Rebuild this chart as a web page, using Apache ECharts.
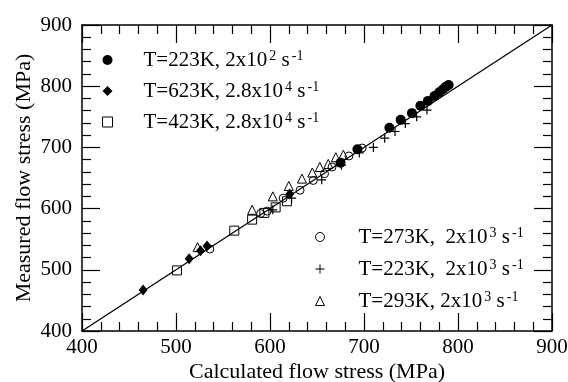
<!DOCTYPE html>
<html><head><meta charset="utf-8">
<script src="https://cdn.jsdelivr.net/npm/echarts@6/dist/echarts.min.js"></script>
<style>html,body{margin:0;padding:0;background:#fff}#c{width:568px;height:382px}</style>
</head><body><div id="c"></div>
<script>
// ---- data ----
const xTicks = [400, 500, 600, 700, 800, 900];
const yTicks = [400, 500, 600, 700, 800, 900];
const diagonal = [[400, 400], [900, 900]];
const xTitle = 'Calculated flow stress (MPa)';
const yTitle = 'Measured flow stress (MPa)';

const s1Name = 'T=223K, 2x10^2 s^-1';
const s1Calc = [675, 693, 727, 739, 751, 760, 768, 775, 780, 784, 787, 790];
const s1Meas = [675, 697, 732, 745, 756, 768, 776, 784, 790, 795, 799, 802];

const s2Name = 'T=623K, 2.8x10^4 s^-1';
const s2Calc = [465, 514, 526, 533, 621];
const s2Meas = [467, 518, 531, 539, 624];

const s3Name = 'T=423K, 2.8x10^4 s^-1';
const s3Calc = [501, 562, 581, 594, 606, 618];
const s3Meas = [499, 564, 582, 593, 602, 612];

const s4Name = 'T=273K,  2x10^3 s^-1';
const s4Calc = [536, 590, 597, 614, 632, 646, 658, 666, 684, 698];
const s4Meas = [534, 592, 596, 617, 630, 646, 657, 668, 686, 699];

const s5Name = 'T=223K,  2x10^3 s^-1';
const s5Calc = [603, 623, 655, 676, 695, 710, 722, 733, 744, 756, 767];
const s5Meas = [598, 617, 647, 671, 691, 700, 715, 726, 739, 750, 761];

const s6Name = 'T=293K, 2x10^3 s^-1';
const s6Calc = [523, 581, 603, 620, 634, 645, 653, 662, 670, 678];
const s6Meas = [537, 598, 620, 637, 649, 659, 668, 673, 684, 688];

// ---- chart ----
const zip = (a, b) => a.map((v, i) => [v, b[i]]);
const FONT = 'Liberation Serif';
const chart = echarts.init(document.getElementById('c'));

function legendFmt(name) {
  return name.replace(/\^(-?[0-9.]+)/g, '{sup|$1}').replace(/(^|\})([^{]+)(?=\{|$)/g, function (m, p, t) { return p + '{n|' + t + '}'; });
}
function legendText(padLeft) {
  return {
    fontFamily: FONT, color: '#000', padding: [0, 0, 0, padLeft],
    rich: {
      n: {fontFamily: FONT, fontSize: 21, color: '#000', lineHeight: 22},
      sup: {fontFamily: FONT, fontSize: 14, color: '#000', verticalAlign: 'top', lineHeight: 14, padding: [0, 0, 10, 2]}
    }
  };
}

function tickAxis(ticks, gridIndex, position, labels) {
  const ax = {
    type: 'value', gridIndex: gridIndex, position: position,
    min: ticks[0], max: ticks[ticks.length - 1], interval: 100,
    axisLine: {show: true, lineStyle: {color: '#000', width: 1.5}},
    axisTick: {show: true, inside: true, length: 18, lineStyle: {color: '#000', width: 1.2}},
    minorTick: {show: true, splitNumber: 5, length: 9, lineStyle: {color: '#000', width: 1.2}},
    splitLine: {show: false},
    minorSplitLine: {show: false},
    axisLabel: {show: false}
  };
  if (labels) ax.axisLabel = Object.assign({show: true, fontFamily: FONT, fontSize: 21, color: '#000'}, labels);
  return ax;
}
function hiddenAxis(ticks, gridIndex) {
  return {type: 'value', gridIndex: gridIndex, show: false,
    min: ticks[0], max: ticks[ticks.length - 1], interval: 100, splitLine: {show: false}};
}
function nameAxis(ticks, gridIndex, name, gap) {
  return {
    type: 'value', gridIndex: gridIndex, min: ticks[0], max: ticks[ticks.length - 1], interval: 100,
    name: name, nameLocation: 'middle', nameGap: gap,
    nameTextStyle: {fontFamily: FONT, fontSize: 22, color: '#000'},
    axisLine: {show: true, lineStyle: {color: 'rgba(0,0,0,0)'}},
    axisTick: {show: false}, minorTick: {show: false}, axisLabel: {show: false},
    splitLine: {show: false}, minorSplitLine: {show: false}
  };
}

const sym = (name, calc, meas, symbol, size, style) => ({
  name: name, type: 'scatter', xAxisIndex: 0, yAxisIndex: 0,
  data: zip(calc, meas), symbol: symbol, symbolSize: size,
  itemStyle: Object.assign({opacity: 1}, style)
});
const openStyle = () => ({color: 'rgba(255,255,255,0)', borderColor: '#000', borderWidth: 1});
const gridBox = () => ({left: 82, right: 16, top: 25, bottom: 51, containLabel: false, outerBoundsMode: 'none'});

chart.setOption({
  animation: false,
  grid: [gridBox(), gridBox(), gridBox()],
  xAxis: [
    tickAxis(xTicks, 0, 'bottom', {margin: 6}),
    tickAxis(xTicks, 0, 'top', null),
    hiddenAxis(xTicks, 1),
    nameAxis(xTicks, 2, xTitle, 30)
  ],
  yAxis: [
    hiddenAxis(yTicks, 0),
    tickAxis(yTicks, 1, 'left', {margin: 10}),
    tickAxis(yTicks, 1, 'right', null),
    nameAxis(yTicks, 2, yTitle, 47)
  ],
  legend: [
    {
      data: [s1Name, s2Name, s3Name], orient: 'vertical', left: 102, top: 49,
      itemWidth: 10, itemHeight: 10, itemGap: 7, padding: 0,
      itemStyle: {borderWidth: 1, opacity: 1},
      formatter: legendFmt, textStyle: legendText(26),
      selectedMode: false
    },
    {
      data: [s4Name, s5Name, s6Name], orient: 'vertical', left: 315, top: 226,
      itemWidth: 9, itemHeight: 9, itemGap: 8, padding: 0,
      itemStyle: {borderWidth: 1, opacity: 1},
      formatter: legendFmt, textStyle: legendText(29),
      selectedMode: false
    }
  ],
  series: [
    {type: 'line', xAxisIndex: 0, yAxisIndex: 0, data: diagonal, symbol: 'none', lineStyle: {color: '#000', width: 1.3}},
    sym(s1Name, s1Calc, s1Meas, 'circle', 10, {color: '#000'}),
    sym(s2Name, s2Calc, s2Meas, 'diamond', [9, 11], {color: '#000'}),
    sym(s3Name, s3Calc, s3Meas, 'rect', 9, openStyle()),
    sym(s4Name, s4Calc, s4Meas, 'circle', 8, openStyle()),
    sym(s5Name, s5Calc, s5Meas, 'path://M0,5L10,5M5,0L5,10', 9, {color: 'rgba(0,0,0,0)', borderColor: '#000', borderWidth: 1.2}),
    sym(s6Name, s6Calc, s6Meas, 'triangle', 9, openStyle())
  ]
});
</script></body></html>
